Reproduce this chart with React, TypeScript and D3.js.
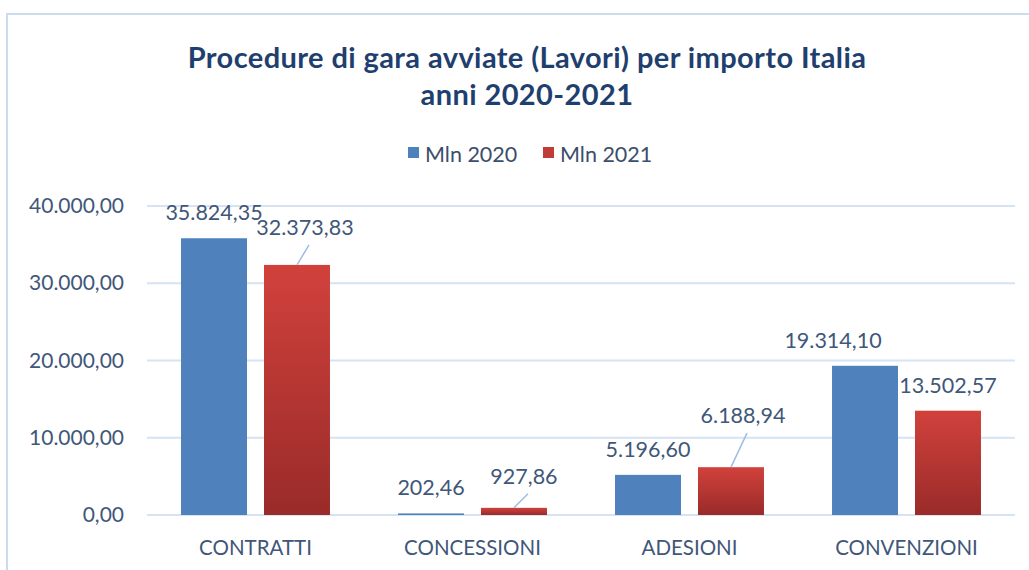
import React from "react";
import * as d3 from "d3";

const categories = ["CONTRATTI", "CONCESSIONI", "ADESIONI", "CONVENZIONI"];
const seriesNames = ["Mln 2020", "Mln 2021"];
const values2020 = [35824.35, 202.46, 5196.6, 19314.1];
const values2021 = [32373.83, 927.86, 6188.94, 13502.57];
const yTicks = [0, 10000, 20000, 30000, 40000];

// label placement tweaks (dx, dy relative to default position, leader line flag)
const labelTweaks2020 = [
  { dx: 0, dy: 0, leader: false },
  { dx: 0, dy: 0, leader: false },
  { dx: 0, dy: 0, leader: false },
  { dx: -32, dy: 0, leader: false },
];
const labelTweaks2021 = [
  { dx: 8, dy: -12, leader: true },
  { dx: 10, dy: -6, leader: true },
  { dx: 12, dy: -26, leader: true },
  { dx: 0, dy: 0, leader: false },
];

const W = 1029;
const H = 570;
const FONT = "Lato, 'Open Sans', sans-serif";

const itFmt = (v: number) => {
  const f = d3.formatLocale({ decimal: ",", thousands: ".", grouping: [3], currency: ["€", ""] });
  return f.format(",.2f")(v);
};

export default function App() {
  const x0 = d3.scaleBand<string>().domain(categories).range([147, 1015]).padding(0);
  const x1 = d3
    .scaleBand<string>()
    .domain(seriesNames)
    .range([0, x0.bandwidth()])
    .paddingInner(0.205)
    .paddingOuter(0.41);
  const y = d3.scaleLinear().domain([0, 40000]).range([515, 206]);

  const series = [
    { name: seriesNames[0], values: values2020, fill: "#4f81bd", tweaks: labelTweaks2020 },
    { name: seriesNames[1], values: values2021, fill: "url(#redGrad)", tweaks: labelTweaks2021 },
  ];

  return (
    <svg
      width={W}
      height={H}
      style={{ position: "absolute", left: 0, top: 0, background: "#fff" }}
      fontFamily={FONT}
    >
      <defs>
        <linearGradient id="redGrad" x1="0" y1="0" x2="0" y2="1">
          <stop offset="0%" stopColor="#d1413c" />
          <stop offset="100%" stopColor="#992b29" />
        </linearGradient>
      </defs>
      <rect x={0} y={0} width={W} height={H} fill="#fff" />
      <rect x={7} y={14} width={W + 20} height={H + 20} fill="none" stroke="#c9dcf0" strokeWidth={2} />

      {/* Title */}
      <text x={527} y={68} textAnchor="middle" fontSize={29} fontWeight="bold" fill="#1f3f6e" letterSpacing={0.4}>
        Procedure di gara avviate (Lavori) per importo Italia
      </text>
      <text x={527} y={105} textAnchor="middle" fontSize={29} fontWeight="bold" fill="#1f3f6e" letterSpacing={0.4}>
        anni 2020-2021
      </text>

      {/* Legend */}
      <g>
        <rect x={408} y={147} width={11} height={11} fill="#4f81bd" />
        <text x={425} y={162} fontSize={21.5} fill="#3b4e6b">
          {seriesNames[0]}
        </text>
        <rect x={543} y={147} width={11} height={11} fill="#c13b37" />
        <text x={560} y={162} fontSize={21.5} fill="#3b4e6b">
          {seriesNames[1]}
        </text>
      </g>

      {/* Gridlines and y labels */}
      {yTicks.map((t) => (
        <g key={t}>
          <line x1={147} x2={1015} y1={y(t)} y2={y(t)} stroke="#d6e3f3" strokeWidth={2} />
          <text x={124} y={y(t) + 7} textAnchor="end" fontSize={21} fill="#3f5779">
            {itFmt(t)}
          </text>
        </g>
      ))}

      {/* Bars */}
      {categories.map((c, i) => (
        <g key={c}>
          {series.map((s) => {
            const v = s.values[i];
            const bx = (x0(c) as number) + (x1(s.name) as number);
            return (
              <rect
                key={s.name}
                x={bx}
                y={y(v)}
                width={x1.bandwidth()}
                height={y(0) - y(v)}
                fill={s.fill}
              />
            );
          })}
          <text
            x={(x0(c) as number) + x0.bandwidth() / 2}
            y={555}
            textAnchor="middle"
            fontSize={20.5}
            fill="#3f5779"
          >
            {c}
          </text>
        </g>
      ))}

      {/* Data labels */}
      {categories.map((c, i) =>
        series.map((s) => {
          const v = s.values[i];
          const t = s.tweaks[i];
          const cx = (x0(c) as number) + (x1(s.name) as number) + x1.bandwidth() / 2;
          const top = y(v);
          const lx = cx + t.dx;
          const ly = top - 18 + t.dy;
          return (
            <g key={c + s.name}>
              {t.leader && (
                <line x1={lx + 4} y1={ly + 10} x2={cx} y2={top} stroke="#9dbde6" strokeWidth={1.5} />
              )}
              <text x={lx} y={ly} textAnchor="middle" fontSize={21.5} fill="#3f5779">
                {itFmt(v)}
              </text>
            </g>
          );
        })
      )}
    </svg>
  );
}
